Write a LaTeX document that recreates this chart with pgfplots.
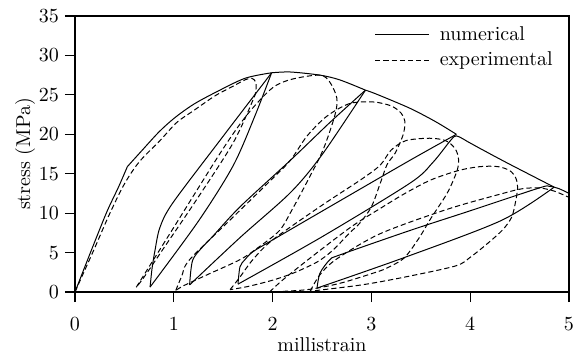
\documentclass[border=0pt]{standalone}
\usepackage{pgfplots}
\pgfplotsset{compat=1.18}
\begin{document}
\begin{tikzpicture}
\useasboundingbox (-37.5pt,-31.5pt) rectangle (254pt,146pt);
\begin{axis}[
  scale only axis, width=247pt, height=138pt,
  at={(0,0)}, anchor=south west,
  xmin=0, xmax=5, ymin=0, ymax=35,
  xtick={0,1,2,3,4,5}, ytick={0,5,10,15,20,25,30,35},
  tick align=outside, xtick pos=bottom, ytick pos=left,
  major tick length=5pt,
  x tick label style={yshift=-4.5pt},
  y tick label style={xshift=0.5pt},
  axis line style={line width=0.6pt},
  every tick/.style={line width=0.6pt, black},
  xlabel={millistrain}, ylabel={stress (MPa)},
  every axis x label/.style={at={(axis description cs:0.5,-0.19)}, anchor=center},
  every axis y label/.style={at={(axis description cs:-0.101,0.5)}, anchor=center, rotate=90},
  legend style={at={(1,1)}, anchor=north east, draw=none, fill=none, xshift=-3pt, yshift=-1pt,
    row sep=0.3pt, legend cell align=left},
  legend image code/.code={\draw[#1] (0pt,0pt) -- (27pt,0pt); \path (30pt,0pt);},
  num/.style={black, line width=0.5pt, smooth, tension=0.5},
  exp/.style={black, line width=0.5pt, smooth, tension=0.5, dash pattern=on 2.6pt off 1.5pt},
]
% ---------------- numerical ----------------
\addplot[num] coordinates {(0,0) (0.15,4.8) (0.32,10.1) (0.44,13.3) (0.53,15.9)};
\addlegendentry{numerical}
\addplot[exp] coordinates {(0,0) (0.1,2.8) (0.2,5.6) (0.35,9.9) (0.5,13.7) (0.65,16.5) (0.86,19.2) (1.03,21.5) (1.2,23.0) (1.42,24.9) (1.6,26.1) (1.72,26.9) (1.79,27.1) (1.83,26.6) (1.83,25.5) (1.80,24.3) (1.60,18.9) (1.23,11.7) (0.9,5.6) (0.70,1.9) (0.62,0.6)};
\addlegendentry{experimental}
\addplot[num, forget plot] coordinates {(0.53,15.9) (0.66,17.7) (0.85,20.3) (1.01,22.1) (1.2,23.8) (1.42,25.3) (1.72,27.1) (1.99,27.8)};
% unload / reload 1
\addplot[num, forget plot] coordinates {(1.99,27.8) (1.49,19.6) (0.99,11.3) (0.86,8.2) (0.81,5.3) (0.78,3.0) (0.76,0.63)};
\addplot[num, forget plot] coordinates {(0.76,0.63) (1.25,9.0) (1.60,16.0) (1.82,22.3) (1.99,27.8)};
% envelope 2
\addplot[num, forget plot] coordinates {(1.99,27.8) (2.18,27.9) (2.48,27.5) (2.68,26.9) (2.94,25.6)};
% unload / reload 2
\addplot[num, forget plot] coordinates {(2.94,25.6) (2.58,21.5) (2.18,16.7) (1.67,10.8) (1.39,7.0) (1.29,5.7) (1.19,4.0) (1.16,0.9)};
\addplot[num, forget plot] coordinates {(1.16,0.9) (1.67,6.9) (2.18,12.6) (2.50,17.4) (2.94,25.6)};
% envelope 3
\addplot[num, forget plot] coordinates {(2.94,25.6) (3.05,25.1) (3.39,23.3) (3.65,21.6) (3.86,20.0)};
% unload / reload 3
\addplot[num, forget plot] coordinates {(3.86,20.0) (3.39,16.7) (2.70,11.7) (2.00,6.6) (1.80,5.1) (1.72,4.1) (1.67,3.2) (1.65,1.0)};
\addplot[num, forget plot] coordinates {(1.65,1.0) (2.5,7.0) (3.39,13.8) (3.62,16.4) (3.80,19.2) (3.86,19.8) (3.97,19.1)};
% envelope 4
\addplot[num, forget plot] coordinates {(3.97,19.1) (4.13,18.0) (4.40,16.2) (4.85,13.3)};
% unload / reload 4
\addplot[num, forget plot] coordinates {(4.85,13.3) (4.32,9.1) (3.34,4.4) (2.45,0.5)};
\addplot[num, forget plot] coordinates {(2.45,0.5) (2.48,2.4) (2.58,4.1) (2.68,4.7) (3.39,7.8) (4.0,10.3) (4.70,13.2) (4.80,13.4) (4.90,13.1) (5.0,12.5)};
% ---------------- experimental ----------------
\addplot[exp, forget plot] coordinates {(0.62,0.6) (1.0,8.2) (1.49,18.0) (1.75,22.6) (2.0,25.9) (2.2,27.0) (2.48,27.5) (2.58,26.6) (2.65,24.6) (2.63,22.4) (2.51,18.0) (2.35,14.0) (2.2,10.5) (2.07,7.8) (1.85,5.6) (1.67,4.1) (1.34,2.2) (1.1,0.8) (1.02,0.2)};
\addplot[exp, forget plot] coordinates {(1.02,0.2) (1.08,2.0) (1.16,4.1) (1.6,9.5) (2.0,14.4) (2.18,16.7) (2.35,19.8) (2.55,22.3) (2.78,23.9) (3.02,24.1) (3.2,23.6) (3.3,22.7) (3.34,21.6) (3.32,19.9) (3.24,17.6) (3.16,16.2) (3.09,13.8) (3.0,10.8) (2.88,8.7) (2.78,7.5) (2.61,5.3) (2.45,3.8) (2.21,2.4) (2.0,1.5) (1.75,0.7) (1.57,0.3)};
\addplot[exp, forget plot] coordinates {(1.57,0.3) (1.67,1.9) (1.80,4.1) (2.0,6.6) (2.5,11.0) (2.9,14.3) (3.09,16.1) (3.2,18.0) (3.35,19.2) (3.59,19.5) (3.75,19.2) (3.84,18.3) (3.88,17.1) (3.87,15.5) (3.77,12.6) (3.6,9.3) (3.48,6.8) (3.33,4.3) (3.15,3.0) (3.02,2.4) (2.68,1.1) (2.35,0.3) (1.97,0)};
\addplot[exp, forget plot] coordinates {(1.97,0) (2.1,1.5) (2.4,4.5) (2.8,8.3) (3.09,10.6) (3.34,12.5) (3.6,14.2) (3.88,15.4) (4.1,15.9) (4.28,15.9) (4.4,15.4) (4.46,14.5) (4.48,13.3) (4.46,11.5) (4.42,9.5) (4.33,7.9) (4.18,6.2) (4.0,4.4) (3.85,3.3) (3.34,1.9) (2.9,0.9) (2.38,0.1)};
\addplot[exp, forget plot] coordinates {(2.38,0.1) (2.48,2.2) (2.65,4.2) (3.09,7.4) (3.77,10.5) (4.33,12.5) (4.53,13.1) (4.7,13.2) (4.85,12.8) (5.0,12.0)};
\end{axis}
\end{tikzpicture}
\end{document}
